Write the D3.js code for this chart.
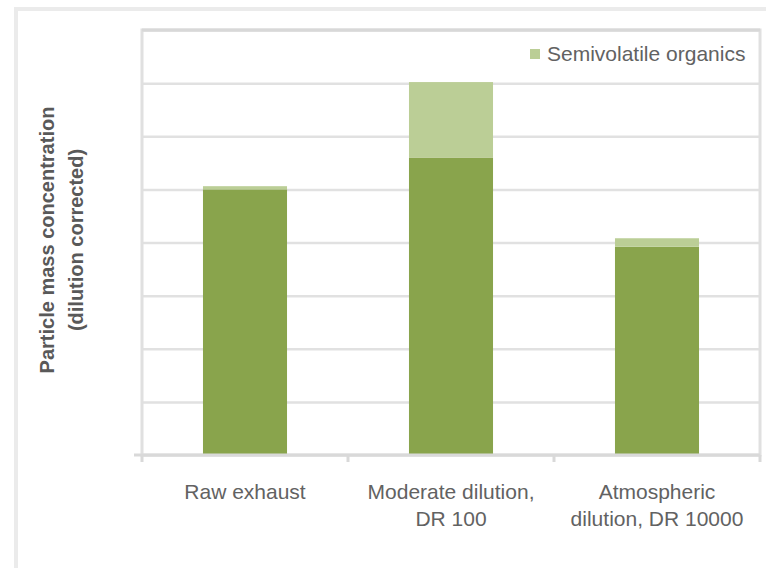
<!DOCTYPE html>
<html>
<head>
<meta charset="utf-8">
<script src="https://cdn.jsdelivr.net/npm/d3@7"></script>
<style>
  html, body { margin: 0; padding: 0; background: #fff; }
  svg { display: block; font-family: "Liberation Sans", Arial, sans-serif; }
</style>
</head>
<body>
<svg id="chart" width="766" height="568"></svg>
<script>
// ---- data ----
const categories = ["Raw exhaust", "Moderate dilution, DR 100", "Atmospheric dilution, DR 10000"];
const categoryLines = [["Raw exhaust"], ["Moderate dilution,", "DR 100"], ["Atmospheric", "dilution, DR 10000"]];
const nonVolatile = [5.0, 5.6, 3.92];
const semivolatile = [0.06, 1.42, 0.16];
const yTicks = [0, 1, 2, 3, 4, 5, 6, 7, 8];
const seriesNames = ["Non-volatile", "Semivolatile organics"];
const yLabelLines = ["Particle mass concentration", "(dilution corrected)"];

// ---- layout ----
const svg = d3.select("#chart");
const plot = { left: 142, right: 760, top: 30, bottom: 455 };
const colors = { dark: "#89a44c", light: "#bbce96" };

// outer chart border (cropped on right/bottom)
svg.append("rect")
  .attr("x", 16).attr("y", 9).attr("width", 780).attr("height", 600)
  .attr("fill", "none").attr("stroke", "#ebebeb").attr("stroke-width", 4);

const x = d3.scaleBand()
  .domain(categories)
  .range([plot.left, plot.right])
  .paddingInner(0.592)
  .paddingOuter(0.296);

const y = d3.scaleLinear().domain([0, 8]).range([plot.bottom, plot.top]);

// gridlines
const grid = svg.append("g")
  .attr("transform", `translate(${plot.left},0)`)
  .call(d3.axisLeft(y).tickValues(yTicks).tickSize(-(plot.right - plot.left)).tickFormat(""));
grid.select(".domain").remove();
grid.selectAll(".tick line").attr("stroke", "#e1e1e1").attr("stroke-width", 2.5);

// plot border
svg.append("rect")
  .attr("x", plot.left).attr("y", plot.top)
  .attr("width", plot.right - plot.left).attr("height", plot.bottom - plot.top)
  .attr("fill", "none").attr("stroke", "#e0e0e0").attr("stroke-width", 3);
svg.append("line")
  .attr("x1", plot.left).attr("x2", plot.right).attr("y1", plot.top).attr("y2", plot.top)
  .attr("stroke", "#d8d8d8").attr("stroke-width", 3);

// stacked bars
const stackData = categories.map((c, i) => ({ cat: c, nv: nonVolatile[i], sv: semivolatile[i] }));
const stack = d3.stack().keys(["nv", "sv"])(stackData);
const fills = [colors.dark, colors.light];
svg.append("g").selectAll("g").data(stack).join("g")
  .attr("fill", (d, i) => fills[i])
  .selectAll("rect").data(d => d).join("rect")
  .attr("x", d => x(d.data.cat))
  .attr("width", x.bandwidth())
  .attr("y", d => y(d[1]))
  .attr("height", d => y(d[0]) - y(d[1]));

// bottom axis
const xAxis = svg.append("g")
  .attr("transform", `translate(0,${plot.bottom})`)
  .call(d3.axisBottom(x).tickSize(0).tickFormat(""));
xAxis.select(".domain").attr("stroke", "#d9d9d9").attr("stroke-width", 3)
  .attr("d", `M${plot.left - 8},0H${plot.right}`);
const bounds = d3.range(categories.length + 1).map(i => plot.left + i * x.step());
svg.append("g").selectAll("line").data(bounds).join("line")
  .attr("x1", d => d).attr("x2", d => d)
  .attr("y1", plot.bottom).attr("y2", plot.bottom + 7)
  .attr("stroke", "#d9d9d9").attr("stroke-width", 3);

// category labels
const lab = svg.append("g").attr("fill", "#626262").attr("font-size", 21).attr("text-anchor", "middle");
categories.forEach((c, i) => {
  const t = lab.append("text").attr("x", x(c) + x.bandwidth() / 2).attr("y", 499);
  categoryLines[i].forEach((ln, j) => {
    t.append("tspan").attr("x", x(c) + x.bandwidth() / 2).attr("dy", j === 0 ? 0 : 27).text(ln);
  });
});

// y axis title
const yl = svg.append("text")
  .attr("transform", "translate(54,240) rotate(-90)")
  .attr("text-anchor", "middle").attr("font-size", 20).attr("font-weight", "bold").attr("fill", "#595959");
yLabelLines.forEach((ln, j) => {
  yl.append("tspan").attr("x", 0).attr("dy", j === 0 ? 0 : 29).text(ln);
});

// legend (only semivolatile entry)
const lg = svg.append("g");
lg.append("rect").attr("x", 530).attr("y", 49).attr("width", 10).attr("height", 10).attr("fill", colors.light);
lg.append("text").attr("x", 547).attr("y", 61).attr("font-size", 21).attr("fill", "#626262").text(seriesNames[1]);
</script>
</body>
</html>
